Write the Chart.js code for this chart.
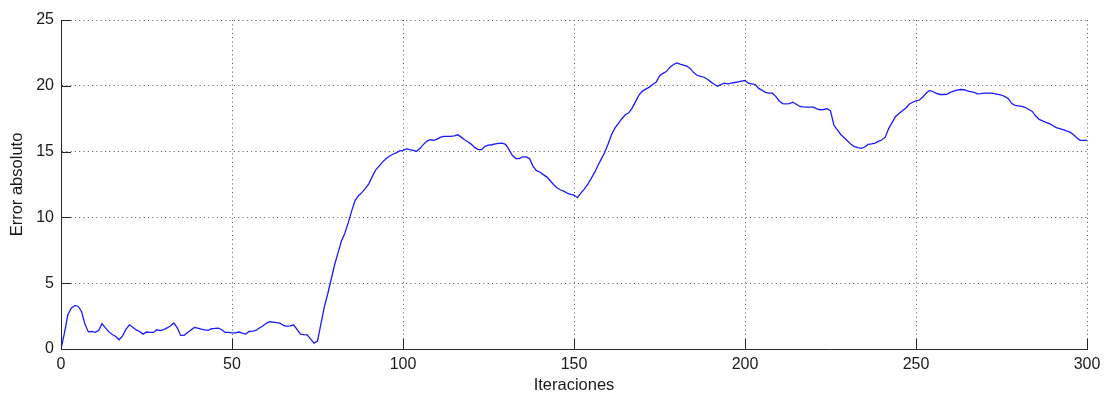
<!DOCTYPE html>
<html>
<head>
<meta charset="utf-8">
<script src="https://cdn.jsdelivr.net/npm/chart.js@4.4.0/dist/chart.umd.min.js"></script>
<style>
   html, body { margin: 0; padding: 0; background: #fff; }
   canvas { display: block; }
</style>
</head>
<body>
<canvas id="errorChart" width="1107" height="394"></canvas>
<script>
// iterations (0..300)
const iterations = [];
for (let i = 0; i <= 300; i++) iterations.push(i);

const errorValues = [
   0, 1.2, 2.6, 3.1, 3.3, 3.25, 2.85, 1.9, 1.3, 1.33,
   1.26, 1.4, 1.92, 1.6, 1.3, 1.1, 0.95, 0.7, 1.0, 1.5,
   1.84, 1.65, 1.45, 1.33, 1.13, 1.29, 1.27, 1.26, 1.46, 1.4,
   1.48, 1.6, 1.75, 1.97, 1.6, 1.03, 1.03, 1.25, 1.45, 1.64,
   1.58, 1.51, 1.45, 1.41, 1.54, 1.56, 1.59, 1.46, 1.26, 1.26,
   1.22, 1.22, 1.29, 1.2, 1.13, 1.33, 1.36, 1.41, 1.6, 1.75,
   1.95, 2.07, 2.04, 2.0, 1.97, 1.8, 1.72, 1.76, 1.84, 1.5,
   1.13, 1.1, 1.08, 0.75, 0.45, 0.6, 1.9, 3.2, 4.2, 5.3,
   6.4, 7.3, 8.2, 8.8, 9.6, 10.5, 11.3, 11.65, 11.9, 12.2,
   12.55, 13.1, 13.6, 13.9, 14.2, 14.45, 14.65, 14.8, 14.9, 15.05,
   15.1, 15.2, 15.15, 15.1, 15.02, 15.25, 15.55, 15.8, 15.9, 15.85,
   15.95, 16.1, 16.15, 16.15, 16.15, 16.2, 16.28, 16.1, 15.9, 15.75,
   15.55, 15.3, 15.15, 15.15, 15.4, 15.5, 15.52, 15.58, 15.62, 15.65,
   15.55, 15.15, 14.7, 14.47, 14.47, 14.6, 14.6, 14.47, 13.9, 13.55,
   13.45, 13.25, 13.08, 12.8, 12.5, 12.25, 12.1, 12.0, 11.85, 11.75,
   11.7, 11.5, 11.85, 12.15, 12.5, 12.95, 13.4, 13.95, 14.45, 14.95,
   15.6, 16.3, 16.8, 17.15, 17.5, 17.8, 17.95, 18.3, 18.8, 19.3,
   19.6, 19.75, 19.9, 20.1, 20.27, 20.75, 20.95, 21.08, 21.4, 21.6,
   21.74, 21.65, 21.58, 21.5, 21.3, 21.0, 20.8, 20.72, 20.65, 20.5,
   20.3, 20.12, 19.97, 20.1, 20.2, 20.15, 20.2, 20.25, 20.3, 20.35,
   20.4, 20.2, 20.15, 20.1, 19.8, 19.65, 19.5, 19.44, 19.44, 19.2,
   18.85, 18.65, 18.63, 18.65, 18.76, 18.6, 18.43, 18.4, 18.38, 18.38,
   18.38, 18.25, 18.18, 18.2, 18.26, 18.1, 17.0, 16.65, 16.3, 16.05,
   15.8, 15.55, 15.38, 15.3, 15.25, 15.35, 15.55, 15.58, 15.65, 15.78,
   15.88, 16.1, 16.75, 17.2, 17.65, 17.9, 18.1, 18.3, 18.6, 18.75,
   18.85, 18.92, 19.15, 19.45, 19.65, 19.55, 19.42, 19.34, 19.34, 19.35,
   19.5, 19.6, 19.68, 19.72, 19.7, 19.62, 19.55, 19.5, 19.38, 19.4,
   19.44, 19.44, 19.44, 19.4, 19.34, 19.3, 19.18, 19.02, 18.65, 18.52,
   18.47, 18.43, 18.35, 18.2, 18.05, 17.7, 17.45, 17.33, 17.22, 17.12,
   16.98, 16.82, 16.75, 16.67, 16.57, 16.48, 16.3, 16.05, 15.86, 15.86,
   15.86
];

const xTicks = [0, 50, 100, 150, 200, 250, 300];
const yTicks = [0, 5, 10, 15, 20, 25];

const fontFamily = "'Liberation Sans', Arial, sans-serif";
const axisColor = '#262626';
const gridColor = '#555555';

// matlab style ticks: short marks pointing into the plot
const inwardTicks = {
   id: 'inwardTicks',
   afterDraw(chart) {
      const c = chart.ctx;
      const area = chart.chartArea;
      const xs = chart.scales.x;
      const ys = chart.scales.y;
      c.save();
      c.strokeStyle = axisColor;
      c.lineWidth = 1;
      c.beginPath();
      xTicks.forEach(v => {
         const px = Math.round(xs.getPixelForValue(v)) + 0.5;
         c.moveTo(px, area.bottom);
         c.lineTo(px, area.bottom - 10);
      });
      yTicks.forEach(v => {
         const py = Math.round(ys.getPixelForValue(v)) + 0.5;
         c.moveTo(area.left, py);
         c.lineTo(area.left + 10, py);
      });
      c.stroke();
      c.restore();
   }
};

new Chart(document.getElementById('errorChart').getContext('2d'), {
   type: 'line',
   data: {
      datasets: [
         {
            data: iterations.map((it, i) => ({ x: it, y: errorValues[i] })),
            borderColor: '#1a1aff',
            borderWidth: 1.3,
            pointRadius: 0,
            tension: 0,
            fill: false,
         },
      ],
   },
   options: {
      responsive: false,
      animation: false,
      devicePixelRatio: 1,
      layout: { padding: { top: 20, right: 20, left: 0, bottom: 0 } },
      plugins: {
         legend: { display: false },
         tooltip: { enabled: false },
      },
      scales: {
         x: {
            type: 'linear',
            min: 0,
            max: 300,
            afterBuildTicks: s => { s.ticks = xTicks.map(v => ({ value: v })); },
            afterFit: s => { s.height = 45; },
            grid: { color: gridColor, drawTicks: false, lineWidth: 1 },
            border: { display: true, color: axisColor, width: 1, dash: [1, 3.3] },
            ticks: {
               color: '#1a1a1a',
               padding: 6,
               maxRotation: 0,
               font: { family: fontFamily, size: 16 },
            },
            title: {
               display: true,
               text: 'Iteraciones',
               color: '#1a1a1a',
               padding: { top: 0, bottom: 0 },
               font: { family: fontFamily, size: 16.5, lineHeight: 1 },
            },
         },
         y: {
            min: 0,
            max: 25,
            afterBuildTicks: s => { s.ticks = yTicks.map(v => ({ value: v })); },
            afterFit: s => { s.width = 61; },
            grid: { color: gridColor, drawTicks: false, lineWidth: 1 },
            border: { display: true, color: axisColor, width: 1, dash: [1, 3.3] },
            ticks: {
               color: '#1a1a1a',
               padding: 7,
               font: { family: fontFamily, size: 16 },
            },
            title: {
               display: true,
               text: 'Error absoluto',
               color: '#1a1a1a',
               padding: { top: 9, bottom: 0 },
               font: { family: fontFamily, size: 16.5, lineHeight: 1 },
            },
         },
      },
   },
   plugins: [inwardTicks],
});
</script>
</body>
</html>
